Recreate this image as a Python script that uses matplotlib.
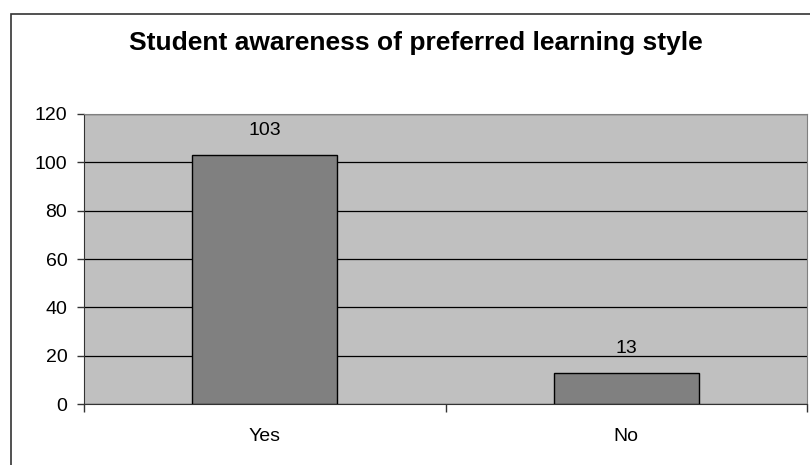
import matplotlib
matplotlib.use("Agg")
import matplotlib.pyplot as plt
from matplotlib.patches import Rectangle

plt.rcParams["font.family"] = ["Liberation Sans", "DejaVu Sans"]

categories = ["Yes", "No"]
counts = [103, 13]
y_ticks = [0, 20, 40, 60, 80, 100, 120]

W, H = 810, 465
fig = plt.figure(figsize=(W / 100, H / 100), dpi=100)
fig.patch.set_facecolor("white")

# outer chart frame (only left/top visible in the reference)
fig.patches.append(Rectangle((11 / W, -0.1), 1.2, (H - 14) / H + 0.1,
                             transform=fig.transFigure, fill=False,
                             edgecolor="#333333", lw=1.2))

ax = fig.add_axes([84 / W, (H - 404) / H, (807 - 84) / W, (404 - 114) / H])
ax.set_facecolor("#c0c0c0")

x = list(range(len(categories)))
bars = ax.bar(x, counts, width=0.4, color="#808080", edgecolor="black", lw=1.0, zorder=3)
for xi, v in zip(x, counts):
    ax.annotate(str(v), (xi, v), xytext=(0, 17.5), textcoords="offset points",
                ha="center", va="center", fontsize=14)

ax.set_xlim(-0.5, len(categories) - 0.5)
ax.set_ylim(0, 120)
ax.set_yticks(y_ticks)
ax.yaxis.grid(True, color="black", lw=0.9, zorder=1)
ax.set_axisbelow(True)

# category ticks sit at boundaries, labels centered on bars
ax.set_xticks([-0.5, 0.5, 1.5])
ax.set_xticklabels(["", "", ""])
ax.set_xticks(x, minor=True)
ax.set_xticklabels(categories, minor=True, fontsize=14)
ax.tick_params(axis="x", which="minor", length=0, pad=17)
ax.tick_params(axis="x", which="major", length=5.8, width=1, color="#333333")
ax.tick_params(axis="y", length=5, width=1, color="#333333", labelsize=14, pad=7)

for s in ["top", "right"]:
    ax.spines[s].set_color("#808080")
for s in ["left", "bottom"]:
    ax.spines[s].set_color("#333333")

fig.text(416 / W, 1 - 43 / H, "Student awareness of preferred learning style",
         ha="center", va="center", fontsize=19, fontweight="bold")

fig.savefig("out.png", dpi=100)
